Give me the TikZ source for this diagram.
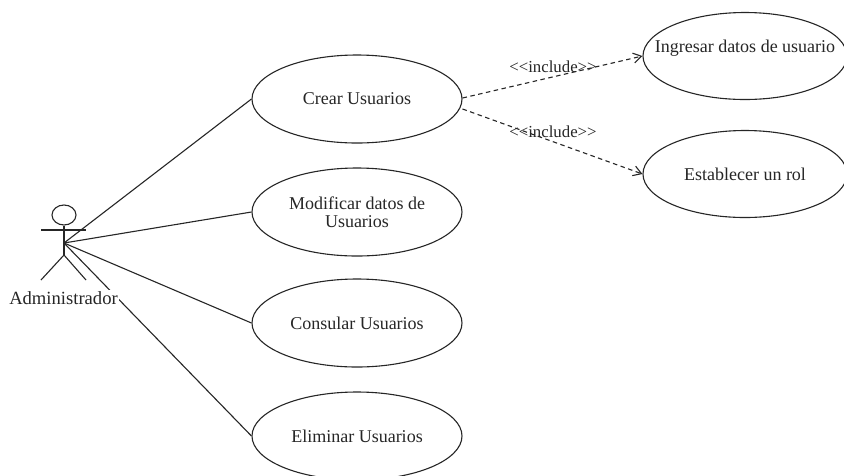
\documentclass[tikz,border=0pt]{standalone}
\usepackage{fontspec}
\setmainfont{Liberation Serif}
\usetikzlibrary{arrows.meta,shapes.geometric}
\begin{document}
\begin{tikzpicture}[x=1pt,y=-1pt,
  usecase/.style={draw=black!85,line width=1.1pt,ellipse,inner sep=0pt,align=center,font=\fontsize{18}{18.5}\selectfont,text=black!85},
  assoc/.style={draw=black!85,line width=1.1pt},
  dep/.style={draw=black!85,line width=1.1pt,dash pattern=on 4.5pt off 3.5pt,-{Straight Barb[length=8pt,width=10pt]}},
  lab/.style={font=\fontsize{16.8}{18}\selectfont,inner sep=0pt,text=black!85}]
\useasboundingbox[fill=white] (0,0) rectangle (844,475);
\node[usecase,minimum width=210pt,minimum height=88pt] (crear) at (357,99) {Crear Usuarios};
\node[usecase,minimum width=210pt,minimum height=88pt] (mod) at (357,212) {Modificar datos de\\Usuarios};
\node[usecase,minimum width=210pt,minimum height=88pt] (cons) at (357,323) {Consular Usuarios};
\node[usecase,minimum width=210pt,minimum height=88pt] (elim) at (357,436) {Eliminar Usuarios};
\node[usecase,minimum width=204pt,minimum height=87pt] (ing) at (745,56) {};
\node[font=\fontsize{18}{18.5}\selectfont,inner sep=0pt,text=black!85] (ingt) at (745,48) {Ingresar datos de usuario};
\node[usecase,minimum width=204pt,minimum height=87pt] (rol) at (745,174) {Establecer un rol};
\coordinate (hub) at (64,243);
\node[draw=black!85,line width=1.1pt,ellipse,minimum width=24pt,minimum height=20pt,inner sep=0pt] (head) at (64,215) {};
\coordinate (hip) at (64,255);
\coordinate (armL) at (41,230);
\coordinate (armR) at (86,230);
\coordinate (legL) at (41,280);
\coordinate (legR) at (86,280);
\draw[assoc] (head.south) -- (hip);
\draw[assoc] (armL) -- (armR);
\draw[assoc] (legL) -- (hip) -- (legR);
\draw[assoc] (hub) -- (crear.west);
\draw[assoc] (hub) -- (mod.west);
\draw[assoc] (hub) -- (cons.west);
\draw[assoc] (hub) -- (elim.west);
\node[font=\fontsize{18.6}{19}\selectfont,inner sep=1pt,fill=white,text=black!85] (admin) at (63.5,298) {Administrador};
\draw[dep] (crear.east) ++(0,-1) coordinate (s1) (s1) -- (ing.west);
\draw[dep] (crear.east) ++(0,10) coordinate (s2) (s2) -- (rol.west);
\node[lab] (l1) at (553,67) {{<}{<}include{>}{>}};
\node[lab] (l2) at (553,132) {{<}{<}include{>}{>}};
\end{tikzpicture}
\end{document}
